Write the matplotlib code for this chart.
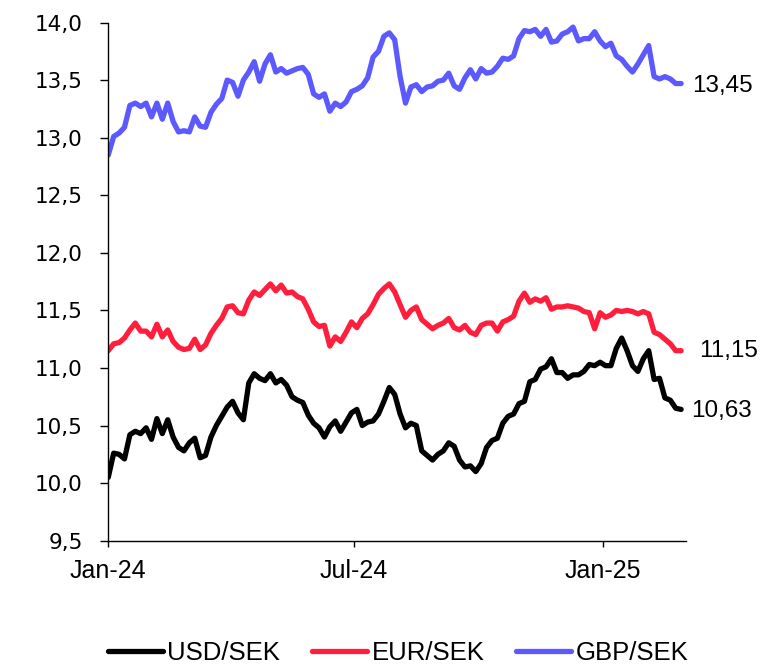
import matplotlib
matplotlib.use("Agg")
import matplotlib.pyplot as plt
import matplotlib.dates as mdates
from matplotlib.ticker import FuncFormatter, MultipleLocator
import pandas as pd

# observation grid (every 4th day from the first trading days of 2024)
start_date = "2024-01-01"
step = "4D"

usd_sek = [
    10.05, 10.26, 10.25, 10.21, 10.42, 10.45, 10.43, 10.48, 10.38, 10.56,
    10.43, 10.55, 10.40, 10.31, 10.28, 10.35, 10.39, 10.22, 10.24, 10.40,
    10.50, 10.58, 10.66, 10.71, 10.61, 10.55, 10.87, 10.95, 10.91, 10.89,
    10.95, 10.87, 10.90, 10.85, 10.75, 10.72, 10.70, 10.59, 10.52, 10.48,
    10.40, 10.49, 10.54, 10.45, 10.53, 10.61, 10.64, 10.50, 10.53, 10.54,
    10.60, 10.71, 10.83, 10.77, 10.60, 10.48, 10.52, 10.50, 10.28, 10.24,
    10.20, 10.25, 10.28, 10.35, 10.32, 10.20, 10.14, 10.15, 10.10, 10.17,
    10.31, 10.37, 10.39, 10.52, 10.58, 10.60, 10.69, 10.71, 10.88, 10.90,
    10.99, 11.01, 11.08, 10.96, 10.96, 10.91, 10.94, 10.94, 10.97, 11.03,
    11.02, 11.05, 11.02, 11.02, 11.17, 11.26, 11.15, 11.02, 10.97, 11.08,
    11.15, 10.90, 10.91, 10.74, 10.72, 10.65, 10.64,
]

eur_sek = [
    11.15, 11.21, 11.22, 11.26, 11.33, 11.39, 11.32, 11.32, 11.27, 11.38,
    11.27, 11.33, 11.23, 11.18, 11.16, 11.17, 11.25, 11.16, 11.20, 11.30,
    11.37, 11.43, 11.53, 11.54, 11.48, 11.47, 11.59, 11.66, 11.63, 11.68,
    11.73, 11.67, 11.72, 11.65, 11.66, 11.62, 11.60, 11.51, 11.40, 11.36,
    11.37, 11.19, 11.27, 11.23, 11.31, 11.40, 11.35, 11.43, 11.47, 11.55,
    11.64, 11.69, 11.73, 11.66, 11.55, 11.44, 11.50, 11.53, 11.42, 11.38,
    11.34, 11.37, 11.39, 11.43, 11.35, 11.33, 11.37, 11.31, 11.29, 11.37,
    11.39, 11.39, 11.32, 11.40, 11.42, 11.45, 11.58, 11.65, 11.57, 11.60,
    11.58, 11.61, 11.51, 11.53, 11.53, 11.54, 11.53, 11.52, 11.49, 11.48,
    11.34, 11.48, 11.44, 11.46, 11.50, 11.49, 11.50, 11.49, 11.47, 11.49,
    11.47, 11.31, 11.29, 11.25, 11.21, 11.15, 11.15,
]

gbp_sek = [
    12.85, 13.01, 13.04, 13.09, 13.28, 13.30, 13.27, 13.30, 13.18, 13.30,
    13.16, 13.30, 13.14, 13.05, 13.06, 13.05, 13.18, 13.10, 13.09, 13.22,
    13.29, 13.34, 13.50, 13.48, 13.36, 13.50, 13.57, 13.66, 13.49, 13.64,
    13.72, 13.57, 13.60, 13.56, 13.58, 13.60, 13.61, 13.55, 13.38, 13.35,
    13.38, 13.23, 13.30, 13.27, 13.31, 13.40, 13.42, 13.45, 13.52, 13.70,
    13.75, 13.88, 13.91, 13.85, 13.53, 13.30, 13.44, 13.46, 13.40, 13.44,
    13.45, 13.49, 13.50, 13.56, 13.45, 13.42, 13.52, 13.59, 13.51, 13.60,
    13.56, 13.57, 13.62, 13.69, 13.68, 13.71, 13.86, 13.93, 13.92, 13.94,
    13.88, 13.94, 13.83, 13.84, 13.90, 13.92, 13.96, 13.84, 13.86, 13.86,
    13.92, 13.84, 13.79, 13.82, 13.71, 13.68, 13.62, 13.57, 13.64, 13.72,
    13.80, 13.53, 13.51, 13.53, 13.51, 13.47, 13.47,
]

series_names = ["USD/SEK", "EUR/SEK", "GBP/SEK"]
last_values = [10.63, 11.15, 13.45]

colors = ["#000000", "#FF1F3D", "#5C5AFF"]
label_offsets = [10, 18, 11]  # px right of the last point


def comma(v: float, decimals: int = 1) -> str:
    return f"{v:.{decimals}f}".replace(".", ",")


def main() -> None:
    dates = pd.date_range(start_date, periods=len(usd_sek), freq=step)
    df = pd.DataFrame({"USD/SEK": usd_sek, "EUR/SEK": eur_sek, "GBP/SEK": gbp_sek}, index=dates)

    fig = plt.figure(figsize=(7.84, 6.68), dpi=100)
    ax = fig.add_axes([0.1381, 0.1906, 0.875 - 0.1381, 0.9663 - 0.1906])

    text_font = "Liberation Sans"
    handles = []
    for name, color, last, off in zip(series_names, colors, last_values, label_offsets):
        (ln,) = ax.plot(df.index, df[name], color=color, lw=3.8, solid_capstyle="round",
                        solid_joinstyle="round", label=name)
        handles.append(ln)
        ax.annotate(comma(last, 2), xy=(df.index[-1], last), xytext=(off * 0.72, 0),
                    textcoords="offset points", ha="left", va="center",
                    fontsize=17.5, family=text_font)

    ax.set_ylim(9.5, 14.0)
    ax.yaxis.set_major_locator(MultipleLocator(0.5))
    ax.yaxis.set_major_formatter(FuncFormatter(lambda v, _: comma(v)))
    ax.set_xlim(pd.Timestamp("2024-01-01"), pd.Timestamp("2024-01-01") + pd.Timedelta(days=427.6))
    ax.xaxis.set_major_locator(mdates.MonthLocator(bymonth=[1, 7]))
    ax.xaxis.set_major_formatter(mdates.DateFormatter("%b-%y"))

    for side in ["top", "right"]:
        ax.spines[side].set_visible(False)
    for side in ["left", "bottom"]:
        ax.spines[side].set_linewidth(1.0)
        ax.spines[side].set_color("black")

    ax.tick_params(axis="y", direction="out", length=5.5, width=1.0, pad=13, labelsize=15.5)
    ax.tick_params(axis="x", direction="out", length=4.5, width=1.0, pad=9, labelsize=18)
    for lbl in ax.get_yticklabels():
        lbl.set_family("DejaVu Sans")
    for lbl in ax.get_xticklabels():
        lbl.set_family(text_font)

    fig.legend(handles=handles, loc="lower center", bbox_to_anchor=(0.508, 0.004), ncol=3,
               frameon=False, prop={"family": text_font, "size": 18.5},
               handlelength=2.14, handletextpad=0.16, columnspacing=1.25,
               borderpad=0, borderaxespad=0)

    fig.savefig("out.png", dpi=100)


if __name__ == "__main__":
    main()
